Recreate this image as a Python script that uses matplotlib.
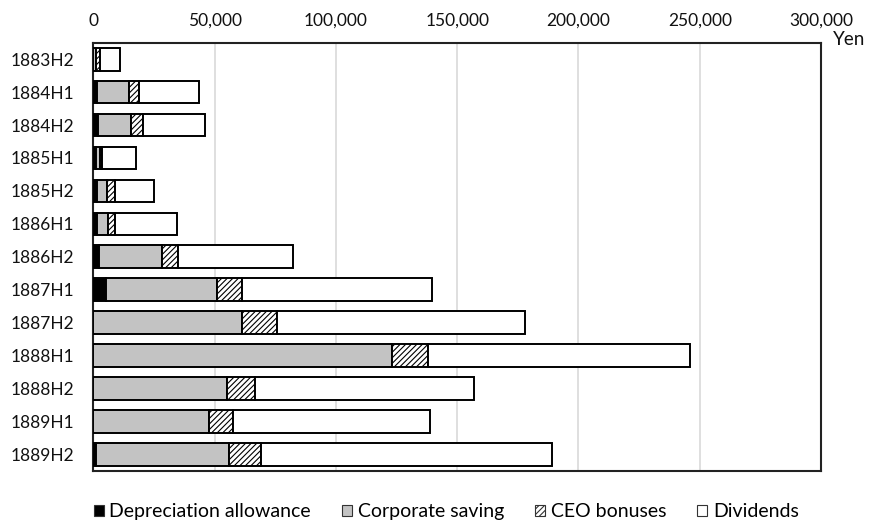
import matplotlib.pyplot as plt
import numpy as np
from matplotlib.ticker import FuncFormatter

plt.rcParams["font.family"] = ["Lato", "DejaVu Sans"]
plt.rcParams["hatch.linewidth"] = 0.8
plt.rcParams["hatch.color"] = "#404040"

periods = [
    "1883H2", "1884H1", "1884H2", "1885H1", "1885H2", "1886H1", "1886H2",
    "1887H1", "1887H2", "1888H1", "1888H2", "1889H1", "1889H2",
]
depreciation = [0, 1400, 2100, 1100, 1400, 1400, 2200, 5100, 0, 0, 0, 0, 1300]
corporate_saving = [1200, 13150, 13550, 1650, 4100, 4500, 26100, 45800, 61300, 123100, 55100, 47800, 54700]
ceo_bonuses = [1500, 4150, 4650, 700, 3300, 2900, 6500, 10300, 14600, 14700, 11700, 9700, 13000]
dividends = [8400, 24900, 25600, 14100, 16300, 25600, 47600, 78300, 102100, 108300, 90000, 81200, 120000]

BAR_HEIGHT = 0.69
EDGE = "black"
EDGE_WIDTH = 1.4
SAVING_COLOR = "#c3c3c3"
GRID_COLOR = "#d9d9d9"

fig = plt.figure(figsize=(8.7, 5.25), dpi=100)
ax = fig.add_axes([0.1072, 0.1029, 0.8365, 0.8158])

y = np.arange(len(periods))
left = np.zeros(len(periods))
segments = [
    ("Depreciation allowance", depreciation, "black", None),
    ("Corporate saving", corporate_saving, SAVING_COLOR, None),
    ("CEO bonuses", ceo_bonuses, "white", "//////"),
    ("Dividends", dividends, "white", None),
]
handles = []
for label, values, color, hatch in segments:
    values = np.array(values, dtype=float)
    ax.barh(
        y, values, left=left, height=BAR_HEIGHT, color=color, hatch=hatch,
        edgecolor=EDGE, linewidth=EDGE_WIDTH, zorder=3,
    )
    handles.append(
        plt.Rectangle((0, 0), 1, 1, facecolor=color, hatch=hatch,
                      edgecolor="#333333", linewidth=0.8, label=label)
    )
    left += values

ax.set_xlim(0, 300000)
ax.set_ylim(len(periods) - 0.5, -0.5)
ax.set_yticks(y)
ax.set_yticklabels(periods)
ax.set_xticks(np.arange(0, 300001, 50000))
ax.xaxis.set_major_formatter(FuncFormatter(lambda v, _: f"{int(v):,}"))
ax.xaxis.tick_top()
ax.tick_params(axis="both", length=0, labelsize=12.5, colors="#111111")
ax.tick_params(axis="x", pad=10)
ax.tick_params(axis="y", pad=14)
ax.grid(axis="x", color=GRID_COLOR, linewidth=1.2, zorder=0)
ax.set_axisbelow(True)
for spine in ax.spines.values():
    spine.set_linewidth(1.5)
    spine.set_color("#222222")

fig.text(0.995, 0.924, "Yen", ha="right", va="center", fontsize=13.5, color="#111111")

fig.legend(
    handles=handles, loc="center", bbox_to_anchor=(0.513, 0.025), ncol=4,
    frameon=False, fontsize=14, handlelength=0.5, handleheight=0.55,
    handletextpad=0.3, columnspacing=1.6, borderaxespad=0,
)

fig.savefig("out.png", dpi=100)
